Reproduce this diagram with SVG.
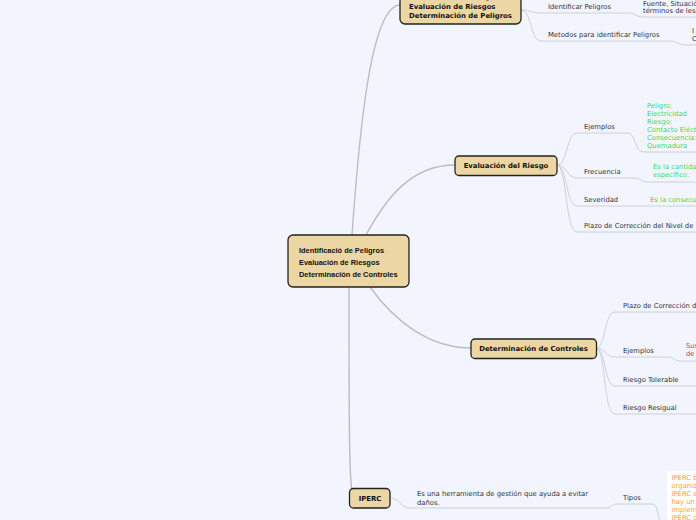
<svg xmlns="http://www.w3.org/2000/svg" width="696" height="520" viewBox="0 0 696 520">
<style>
.node rect{fill:#ecd6a3;stroke:#222;stroke-width:1.3}
.nt{font-family:"DejaVu Sans",Verdana,sans-serif;font-weight:bold;font-size:6.9px;fill:#111}
.ct{font-family:"Liberation Sans",Arial,sans-serif;font-weight:bold;font-size:7.4px;fill:#111}
.t{font-family:"DejaVu Sans",Verdana,sans-serif;font-size:6.8px;fill:#333}
.g{font-family:"DejaVu Sans",Verdana,sans-serif;font-size:6.8px;fill:#3fd856}
.r{font-family:"DejaVu Sans",Verdana,sans-serif;font-size:6.8px;fill:#cc3a5e}
.o{font-family:"DejaVu Sans",Verdana,sans-serif;font-size:6.8px;fill:#f59c3c}
.main path{fill:none;stroke:#bcbcc4;stroke-width:1.4}
.sub path{fill:none;stroke:#cdd0d8;stroke-width:1}
</style>
<rect width="696" height="520" fill="#f2f5fe"/>
<g id="connectors">
<g class="main">
<path d="M352,235 C360,120 372,6 400,5"/>
<path d="M366,235 C385,200 410,165 455,165"/>
<path d="M370,287 C395,322 430,348 471,348"/>
<path d="M349,287 C349,400 349,480 352,490"/>
</g>
<g class="sub">
<path d="M521,10 C530,10 532,13 541,13 L628,13 C635,13 636,17 643,17 L696,17"/>
<path d="M521,10 C532,10 530,41 541,41 L670,41 C677,41 678,45 685,45 L696,45"/>
<path d="M557,165 C568,165 566,133 577,133 L628,133 C636,133 634,152 644,152 L696,152"/>
<path d="M557,165 C567,165 567,178 577,178 L634,178 C641,178 641,182 648,182 L696,182"/>
<path d="M557,165 C567,165 566,206 577,206 L696,206"/>
<path d="M557,165 C567,165 565,232 577,232 L696,232"/>
<path d="M596,348 C606,348 604,312 615,312 L696,312"/>
<path d="M596,348 C606,348 605,357 615,357 L668,357 C674,357 674,361 680,361 L696,361"/>
<path d="M596,348 C606,348 604,386 615,386 L696,386"/>
<path d="M596,348 C606,348 603,414 615,414 L696,414"/>
<path d="M390,498 C400,498 400,508 410,508 L606,508 C612,508 611,504 617,504 L652,504 C658,504 657,515 660,520"/>
</g>
</g>
<g id="node-central" class="node">
<rect x="288" y="235" width="121" height="52" rx="5"/>
<text class="ct" x="299" y="252.5">Identificació de Peligros</text>
<text class="ct" x="299" y="264.5">Evaluación de Riesgos</text>
<text class="ct" x="299" y="276.5">Determinación de Controles</text>
</g>
<g id="node-identificacion" class="node">
<rect x="400" y="-20" width="121" height="44" rx="5"/>
<text class="nt" x="409" y="-1">Identificació de Peligros</text>
<text class="nt" x="409" y="8.7">Evaluación de Riesgos</text>
<text class="nt" x="409" y="18.3">Determinación de Peligros</text>
</g>
<g id="node-evaluacion" class="node">
<rect x="455" y="156" width="102" height="19.5" rx="4"/>
<text class="nt" x="506" y="168" text-anchor="middle">Evaluación del Riesgo</text>
</g>
<g id="node-controles" class="node">
<rect x="471" y="339" width="125.5" height="19.5" rx="4"/>
<text class="nt" x="533.5" y="351" text-anchor="middle">Determinación de Controles</text>
</g>
<g id="node-iperc" class="node">
<rect x="349.5" y="488.5" width="40.5" height="19.5" rx="4"/>
<text class="nt" x="370" y="501" text-anchor="middle">IPERC</text>
</g>
<g id="node-identificar-peligros">
<text class="t" x="548" y="8.5">Identificar Peligros</text>
<text class="t" x="643" y="5.5">Fuente, Situación</text>
<text class="t" x="643" y="13">términos de lesión</text>
</g>
<g id="node-metodos">
<text class="t" x="548" y="36.5">Metodos para identificar Peligros</text>
<text class="t" x="692" y="32.5">I</text>
<text class="t" x="692" y="40.5">C</text>
</g>
<g id="node-ejemplos-eval">
<text class="t" x="584" y="129">Ejemplos</text>
<text class="g" x="647" y="107.5">Peligro:</text>
<text class="g" x="647" y="115.5">Electricidad</text>
<text class="g" x="647" y="123.5">Riesgo:</text>
<text class="g" x="647" y="131.5">Contacto Eléctrico</text>
<text class="g" x="647" y="139.5">Consecuencia:</text>
<text class="g" x="647" y="147.5">Quemadura</text>
</g>
<g id="node-frecuencia">
<text class="t" x="584" y="174">Frecuencia</text>
<text class="g" x="653" y="169">Es la cantidad</text>
<text class="g" x="653" y="177">específico.</text>
</g>
<g id="node-severidad">
<text class="t" x="584" y="202">Severidad</text>
<text class="g" x="650" y="202">Es la consecuencia</text>
</g>
<g id="node-plazo-eval">
<text class="t" x="584" y="227.5">Plazo de Corrección del Nivel de</text>
</g>
<g id="node-plazo-ctrl">
<text class="t" x="623" y="307.5">Plazo de Corrección de</text>
</g>
<g id="node-ejemplos-ctrl">
<text class="t" x="623" y="353">Ejemplos</text>
<text class="r" x="686" y="347.5">Sus</text>
<text class="r" x="686" y="356">de</text>
</g>
<g id="node-tolerable">
<text class="t" x="623" y="382">Riesgo Tolerable</text>
</g>
<g id="node-residual">
<text class="t" x="623" y="410">Riesgo Resigual</text>
</g>
<g id="node-iperc-def">
<text class="t" x="417" y="496">Es una herramienta de gestión que ayuda a evitar</text>
<text class="t" x="417" y="504.5">daños.</text>
</g>
<g id="node-tipos">
<text class="t" x="623" y="500">Tipos</text>
</g>
<g id="node-tipos-desc">
<rect x="667" y="471" width="40" height="60" rx="3" fill="#ffffff"/>
<text class="o" x="671.5" y="479.5">IPERC b</text>
<text class="o" x="671.5" y="487.5">organiza</text>
<text class="o" x="671.5" y="495.5">IPERC e</text>
<text class="o" x="671.5" y="503.5">hay un</text>
<text class="o" x="671.5" y="511.5">impleme</text>
<text class="o" x="671.5" y="519.5">IPERC c</text>
</g>
</svg>
